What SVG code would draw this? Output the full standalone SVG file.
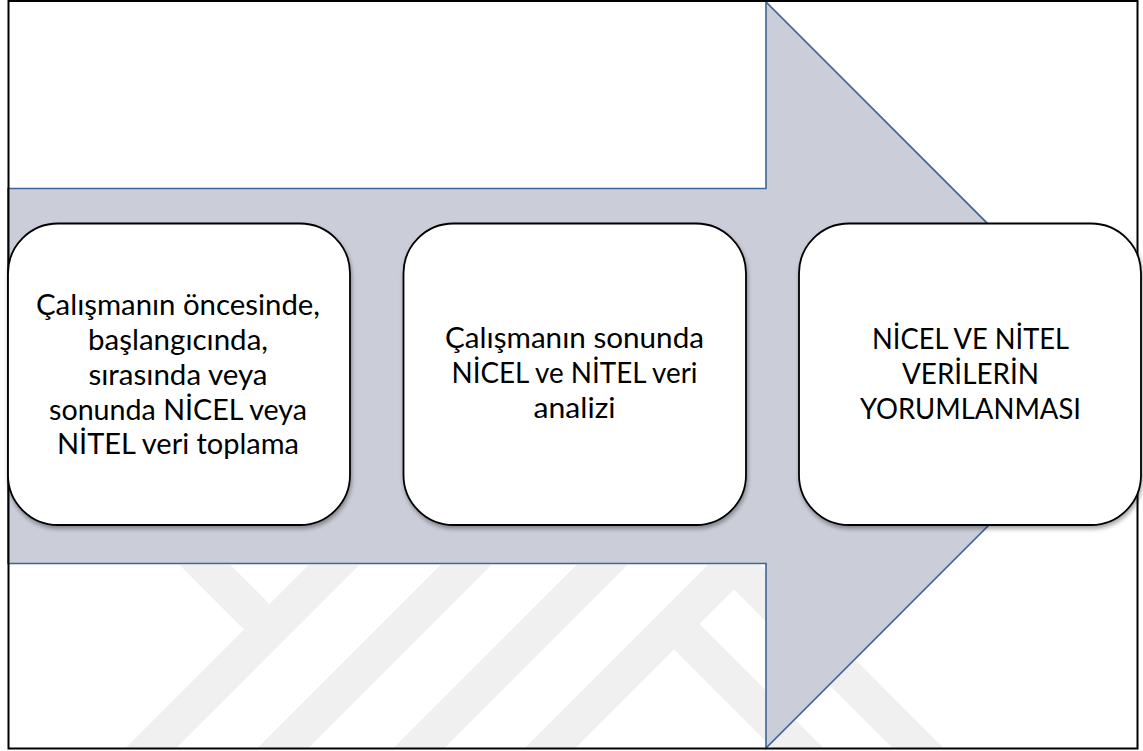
<svg xmlns="http://www.w3.org/2000/svg" width="1143" height="751" viewBox="0 0 1143 751">
  <defs>
    <style>
      .wm { stroke: #f0f0f0; stroke-width: 36; fill: none; stroke-linecap: butt; }
      .box { fill: #ffffff; stroke: #000000; stroke-width: 1.8; filter: url(#shadow); }
      .lbl { font-family: "Lato", "Liberation Sans", sans-serif; font-size: 28px; fill: #000000; text-anchor: middle; }
    </style>
    <filter id="shadow" x="-10%" y="-10%" width="120%" height="125%">
      <feDropShadow dx="1" dy="3" stdDeviation="2" flood-color="#000000" flood-opacity="0.35"/>
    </filter>
    <clipPath id="wmclip">
      <rect x="9" y="565" width="1127" height="183"/>
    </clipPath>
  </defs>

  <rect x="0" y="0" width="1143" height="751" fill="#ffffff"/>

  <g id="watermark" clip-path="url(#wmclip)">
    <line class="wm" x1="400" y1="499" x2="100" y2="799"/>
    <line class="wm" x1="150" y1="510" x2="269.5" y2="629.5"/>
    <line class="wm" x1="531" y1="500" x2="231" y2="800"/>
    <line class="wm" x1="667" y1="500" x2="367" y2="800"/>
    <line class="wm" x1="798" y1="500" x2="498" y2="800"/>
    <line class="wm" x1="734" y1="564" x2="960" y2="790"/>
    <line class="wm" x1="674" y1="624" x2="840" y2="790"/>
  </g>

  <g id="connectors">
    <polygon points="8,188.5 766,188.5 766,2 1139,375 766,748 766,563.5 8,563.5" fill="#cbced8" stroke="#3d6597" stroke-width="1.6" stroke-linejoin="miter"/>
  </g>

  <rect id="frame" x="8.5" y="1" width="1129" height="747.5" fill="none" stroke="#000000" stroke-width="2"/>

  <g id="node1">
    <rect class="box" x="8" y="223.5" width="342" height="301.5" rx="50" ry="50"/>
    <text class="lbl" x="178" y="315" textLength="284" lengthAdjust="spacingAndGlyphs">Çalışmanın öncesinde,</text>
    <text class="lbl" x="178" y="350" textLength="180" lengthAdjust="spacingAndGlyphs">başlangıcında,</text>
    <text class="lbl" x="178" y="385" textLength="179" lengthAdjust="spacingAndGlyphs">sırasında veya</text>
    <text class="lbl" x="178" y="420" textLength="258" lengthAdjust="spacingAndGlyphs">sonunda NİCEL veya</text>
    <text class="lbl" x="178" y="454" textLength="242" lengthAdjust="spacingAndGlyphs">NİTEL veri toplama</text>
  </g>

  <g id="node2">
    <rect class="box" x="403.5" y="223.5" width="342.5" height="301.5" rx="50" ry="50"/>
    <text class="lbl" x="574.5" y="348" textLength="259" lengthAdjust="spacingAndGlyphs">Çalışmanın sonunda</text>
    <text class="lbl" x="574.5" y="383" textLength="246" lengthAdjust="spacingAndGlyphs">NİCEL ve NİTEL veri</text>
    <text class="lbl" x="574.5" y="418" textLength="82" lengthAdjust="spacingAndGlyphs">analizi</text>
  </g>

  <g id="node3">
    <rect class="box" x="799" y="223.5" width="342" height="301.5" rx="50" ry="50"/>
    <text class="lbl" x="970.5" y="349" textLength="197" lengthAdjust="spacingAndGlyphs">NİCEL VE NİTEL</text>
    <text class="lbl" x="970.5" y="384" textLength="137" lengthAdjust="spacingAndGlyphs">VERİLERİN</text>
    <text class="lbl" x="970.5" y="419" textLength="221" lengthAdjust="spacingAndGlyphs">YORUMLANMASI</text>
  </g>
</svg>
